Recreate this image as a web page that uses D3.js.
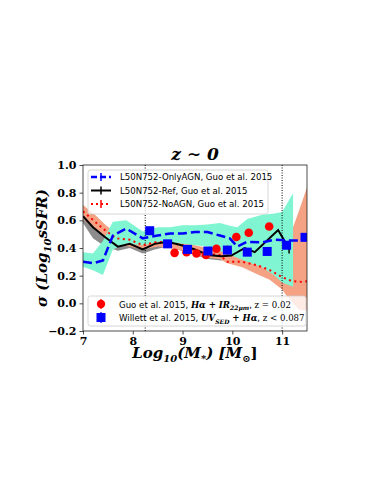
<!DOCTYPE html>
<html>
<head>
<meta charset="utf-8">
<script src="https://cdn.jsdelivr.net/npm/d3@7"></script>
<style>
  body { margin: 0; background: #fff; }
  svg { display: block; }
  .tick text { font-family: "DejaVu Serif", serif; font-weight: bold; font-size: 11px; }
</style>
</head>
<body>
<div id="chart"></div>
<script>
// simulation curves (sigma of log sSFR vs stellar mass)
var massOnly = [7.0, 7.2, 7.4, 7.6, 7.87, 8.2, 8.5, 8.75, 9.0, 9.25, 9.5, 9.75, 9.95, 10.1, 10.3, 10.6, 10.85, 11.1, 11.3, 11.5];
var sigmaOnly = [0.30, 0.29, 0.31, 0.49, 0.54, 0.47, 0.49, 0.505, 0.505, 0.515, 0.515, 0.49, 0.47, 0.41, 0.445, 0.44, 0.46, 0.455, 0.455, 0.465];

var massRef = [7.0, 7.2, 7.44, 7.7, 7.94, 8.2, 8.44, 8.7, 8.98, 9.25, 9.5, 9.78, 9.98, 10.25, 10.45, 10.92, 11.05, 11.14];
var sigmaRef = [0.63, 0.55, 0.48, 0.41, 0.43, 0.39, 0.43, 0.445, 0.42, 0.39, 0.35, 0.34, 0.345, 0.40, 0.37, 0.53, 0.45, 0.39];

var massNo = [7.0, 7.24, 7.47, 7.67, 7.94, 8.2, 8.5, 8.75, 9.0, 9.25, 9.5, 9.75, 9.9, 10.2, 10.5, 10.75, 11.0, 11.2, 11.4, 11.5];
var sigmaNo = [0.665, 0.59, 0.52, 0.47, 0.46, 0.42, 0.445, 0.44, 0.42, 0.38, 0.36, 0.35, 0.30, 0.30, 0.275, 0.24, 0.19, 0.16, 0.155, 0.16];

// shaded ranges
var bandOnlyMass = [7.0, 7.2, 7.4, 7.6, 7.87, 8.2, 8.5, 8.75, 9.0, 9.25, 9.5, 9.75, 9.95, 10.1, 10.3, 10.6, 10.85, 11.0, 11.22];
var bandOnlyLo = [0.265, 0.24, 0.205, 0.39, 0.43, 0.42, 0.445, 0.44, 0.43, 0.42, 0.41, 0.38, 0.35, 0.33, 0.30, 0.26, 0.20, 0.15, 0.12];
var bandOnlyHi = [0.37, 0.36, 0.45, 0.59, 0.60, 0.52, 0.55, 0.55, 0.565, 0.565, 0.57, 0.58, 0.56, 0.55, 0.61, 0.64, 0.65, 0.66, 0.795];

var bandRefMass = [7.0, 7.2, 7.44, 7.7, 7.94, 8.2, 8.44, 8.7, 8.98, 9.25, 9.5, 9.78, 9.98];
var bandRefLo = [0.58, 0.47, 0.41, 0.38, 0.40, 0.36, 0.39, 0.41, 0.38, 0.35, 0.32, 0.31, 0.32];
var bandRefHi = [0.65, 0.58, 0.51, 0.44, 0.45, 0.41, 0.45, 0.46, 0.44, 0.41, 0.37, 0.36, 0.36];

var bandNoMass = [7.0, 7.24, 7.47, 7.67, 7.94, 8.2, 8.5, 8.75, 9.0, 9.25, 9.5, 9.75, 9.9, 10.2, 10.5, 10.75, 11.0, 11.1, 11.22, 11.35, 11.5];
var bandNoLo = [0.61, 0.53, 0.47, 0.42, 0.41, 0.39, 0.41, 0.40, 0.38, 0.35, 0.33, 0.32, 0.29, 0.26, 0.21, 0.17, 0.10, 0.05, 0.0, -0.05, -0.05];
var bandNoHi = [0.71, 0.64, 0.56, 0.51, 0.48, 0.45, 0.47, 0.47, 0.45, 0.42, 0.40, 0.39, 0.35, 0.34, 0.32, 0.30, 0.30, 0.40, 0.55, 0.68, 0.84];

// observations
var guoMass = [8.84, 9.08, 9.28, 9.47, 9.68, 9.9, 10.08, 10.33, 10.74];
var guoSigma = [0.365, 0.37, 0.36, 0.35, 0.395, 0.385, 0.48, 0.51, 0.555];
var willettMass = [8.34, 8.7, 9.1, 9.51, 9.9, 10.3, 10.7, 11.09, 11.46];
var willettSigma = [0.525, 0.43, 0.39, 0.378, 0.385, 0.37, 0.375, 0.42, 0.477];

var xTicks = [7, 8, 9, 10, 11];
var yTicks = [-0.2, 0.0, 0.2, 0.4, 0.6, 0.8, 1.0];
var vLines = [8.25, 11.0];

var width = 383, height = 495;
var pL = 83, pR = 307, pT = 165, pB = 331;

var svg = d3.select("#chart").append("svg")
    .attr("width", width)
    .attr("height", height);

var x = d3.scaleLinear().domain([7, 11.5]).range([pL, pR]);
var y = d3.scaleLinear().domain([-0.2, 1.0]).range([pB, pT]);

svg.append("defs").append("clipPath").attr("id", "clip")
  .append("rect")
    .attr("x", pL).attr("y", pT)
    .attr("width", pR - pL).attr("height", pB - pT);

var plot = svg.append("g").attr("clip-path", "url(#clip)");

function band(ms, lo, hi) {
  return d3.area()
    .x(function(d, i) { return x(ms[i]); })
    .y0(function(d, i) { return y(lo[i]); })
    .y1(function(d, i) { return y(hi[i]); })(ms);
}
function curve(ms, vs) {
  return d3.line()
    .x(function(d, i) { return x(ms[i]); })
    .y(function(d, i) { return y(vs[i]); })(ms);
}

plot.append("path").attr("d", band(bandRefMass, bandRefLo, bandRefHi))
    .attr("fill", "#8c8c8c");
plot.append("path").attr("d", band(bandNoMass, bandNoLo, bandNoHi))
    .attr("fill", "#f4a283");
plot.append("path").attr("d", band(bandOnlyMass, bandOnlyLo, bandOnlyHi))
    .attr("fill", "#7ff5d2");

// vertical dotted lines
plot.selectAll(".vline").data(vLines).enter().append("line")
    .attr("x1", function(d) { return x(d); })
    .attr("x2", function(d) { return x(d); })
    .attr("y1", pT).attr("y2", pB)
    .attr("stroke", "#000").attr("stroke-width", 1)
    .attr("stroke-dasharray", "1,1.5");

plot.append("path").attr("d", curve(massNo, sigmaNo))
    .attr("fill", "none").attr("stroke", "#ff0000")
    .attr("stroke-width", 2).attr("stroke-dasharray", "2,3.5");
plot.append("path").attr("d", curve(massRef, sigmaRef))
    .attr("fill", "none").attr("stroke", "#000")
    .attr("stroke-width", 2);
plot.append("path").attr("d", curve(massOnly, sigmaOnly))
    .attr("fill", "none").attr("stroke", "#0000ff")
    .attr("stroke-width", 2.5).attr("stroke-dasharray", "9,4");

// end error bar of the Ref curve
var lastRef = massRef.length - 1;
plot.append("line")
    .attr("x1", x(massRef[lastRef])).attr("x2", x(massRef[lastRef]))
    .attr("y1", y(sigmaRef[lastRef] - 0.03)).attr("y2", y(sigmaRef[lastRef] + 0.03))
    .attr("stroke", "#000").attr("stroke-width", 1.5);

plot.selectAll(".guo").data(guoMass).enter().append("circle")
    .attr("cx", function(d) { return x(d); })
    .attr("cy", function(d, i) { return y(guoSigma[i]); })
    .attr("r", 4.3)
    .attr("fill", "#ff0000");

plot.selectAll(".wil").data(willettMass).enter().append("rect")
    .attr("x", function(d) { return x(d) - 4.5; })
    .attr("y", function(d, i) { return y(willettSigma[i]) - 4.5; })
    .attr("width", 9).attr("height", 9)
    .attr("fill", "#0000ff");

// axes
var xAxis = d3.axisBottom(x).tickValues(xTicks).tickSize(3.5).tickPadding(3)
    .tickFormat(d3.format("d"));
var yAxis = d3.axisLeft(y).tickValues(yTicks).tickSize(3.5).tickPadding(3)
    .tickFormat(function(d) { return d3.format(".1f")(d).replace("-", "\u2212"); });

var gx = svg.append("g").attr("transform", "translate(0," + pB + ")").call(xAxis);
var gy = svg.append("g").attr("transform", "translate(" + pL + ",0)").call(yAxis);
[gx, gy].forEach(function(g) {
  g.select(".domain").remove();
  g.selectAll(".tick line").attr("stroke", "#222").attr("stroke-width", 0.8);
  g.selectAll(".tick text").attr("fill", "#000");
});

svg.append("rect")
    .attr("x", pL).attr("y", pT)
    .attr("width", pR - pL).attr("height", pB - pT)
    .attr("fill", "none").attr("stroke", "#222").attr("stroke-width", 0.8);

// title & labels
var serif = "'DejaVu Serif', serif";
svg.append("text")
    .attr("x", (pL + pR) / 2).attr("y", 160)
    .attr("text-anchor", "middle")
    .style("font-family", serif).style("font-weight", "bold").style("font-style", "italic")
    .style("font-size", "17px")
    .text("z \u223C 0");

var xl = svg.append("text")
    .attr("x", (pL + pR) / 2).attr("y", 358)
    .attr("text-anchor", "middle")
    .style("font-family", serif).style("font-weight", "bold").style("font-style", "italic")
    .style("font-size", "15px");
xl.append("tspan").text("Log");
xl.append("tspan").attr("dy", 4).style("font-size", "10px").text("10");
xl.append("tspan").attr("dy", -4).text("(M");
xl.append("tspan").attr("dy", 4).style("font-size", "10px").text("*");
xl.append("tspan").attr("dy", -4).text(") [M");
xl.append("tspan").attr("dy", 4).style("font-size", "10px").style("font-style", "normal").text("\u2299");
xl.append("tspan").attr("dy", -4).style("font-style", "normal").text("]");

var yl = svg.append("text")
    .attr("transform", "translate(47," + ((pT + pB) / 2) + ") rotate(-90)")
    .attr("text-anchor", "middle")
    .style("font-family", serif).style("font-weight", "bold").style("font-style", "italic")
    .style("font-size", "15px");
yl.append("tspan").text("\u03C3 (Log");
yl.append("tspan").attr("dy", 4).style("font-size", "10px").text("10");
yl.append("tspan").attr("dy", -4).text("sSFR)");

// legend 1
var sans = "'DejaVu Sans', sans-serif";
var leg1 = svg.append("g");
leg1.append("rect")
    .attr("x", 88).attr("y", 170).attr("width", 180).attr("height", 44)
    .attr("rx", 2.5).attr("fill", "#fff").attr("fill-opacity", 0.8)
    .attr("stroke", "#ccc").attr("stroke-width", 0.8);
var legNames = ["L50N752-OnlyAGN, Guo et al. 2015", "L50N752-Ref, Guo et al. 2015", "L50N752-NoAGN, Guo et al. 2015"];
var legColors = ["#0000ff", "#000", "#ff0000"];
var legDash = ["6,3", null, "2,3"];
var legWidth = [2.5, 2, 2];
legNames.forEach(function(name, i) {
  var yy = 177 + i * 13.5;
  leg1.append("line").attr("x1", 91).attr("x2", 111).attr("y1", yy).attr("y2", yy)
      .attr("stroke", legColors[i]).attr("stroke-width", legWidth[i])
      .attr("stroke-dasharray", legDash[i]);
  leg1.append("line").attr("x1", 101).attr("x2", 101).attr("y1", yy - 4).attr("y2", yy + 4)
      .attr("stroke", legColors[i]).attr("stroke-width", 1.5);
  leg1.append("text").attr("x", 120).attr("y", yy + 3.2)
      .style("font-family", sans).style("font-size", "8.6px")
      .text(name);
});

// legend 2
var leg2 = svg.append("g");
leg2.append("rect")
    .attr("x", 88).attr("y", 296).attr("width", 218).attr("height", 30)
    .attr("rx", 2.5).attr("fill", "#fff").attr("fill-opacity", 0.8)
    .attr("stroke", "#ccc").attr("stroke-width", 0.8);
leg2.append("circle").attr("cx", 101).attr("cy", 304).attr("r", 4.2).attr("fill", "#ff0000");
leg2.append("line").attr("x1", 101).attr("x2", 101).attr("y1", 299).attr("y2", 309)
    .attr("stroke", "#ff0000").attr("stroke-width", 1.2);
leg2.append("rect").attr("x", 96.5).attr("y", 313).attr("width", 9).attr("height", 9).attr("fill", "#0000ff");
leg2.append("line").attr("x1", 101).attr("x2", 101).attr("y1", 312).attr("y2", 323)
    .attr("stroke", "#0000ff").attr("stroke-width", 1.2);

var t1 = leg2.append("text").attr("x", 119).attr("y", 307.5)
    .style("font-family", sans).style("font-size", "8.6px");
t1.append("tspan").text("Guo et al. 2015, ");
t1.append("tspan").style("font-family", serif).style("font-weight", "bold").style("font-style", "italic").text("H\u03B1 + IR");
t1.append("tspan").attr("dy", 2.5).style("font-family", serif).style("font-weight", "bold").style("font-style", "italic").style("font-size", "6px").text("22\u03BCm");
t1.append("tspan").attr("dy", -2.5).text(", ");
t1.append("tspan").style("font-family", serif).text("z = 0.02");

var t2 = leg2.append("text").attr("x", 119).attr("y", 321)
    .style("font-family", sans).style("font-size", "8.6px");
t2.append("tspan").text("Willett et al. 2015, ");
t2.append("tspan").style("font-family", serif).style("font-weight", "bold").style("font-style", "italic").text("UV");
t2.append("tspan").attr("dy", 2.5).style("font-family", serif).style("font-weight", "bold").style("font-style", "italic").style("font-size", "6px").text("SED");
t2.append("tspan").attr("dy", -2.5).style("font-family", serif).style("font-weight", "bold").style("font-style", "italic").text(" + H\u03B1");
t2.append("tspan").text(", ");
t2.append("tspan").style("font-family", serif).text("z < 0.087");
</script>
</body>
</html>
